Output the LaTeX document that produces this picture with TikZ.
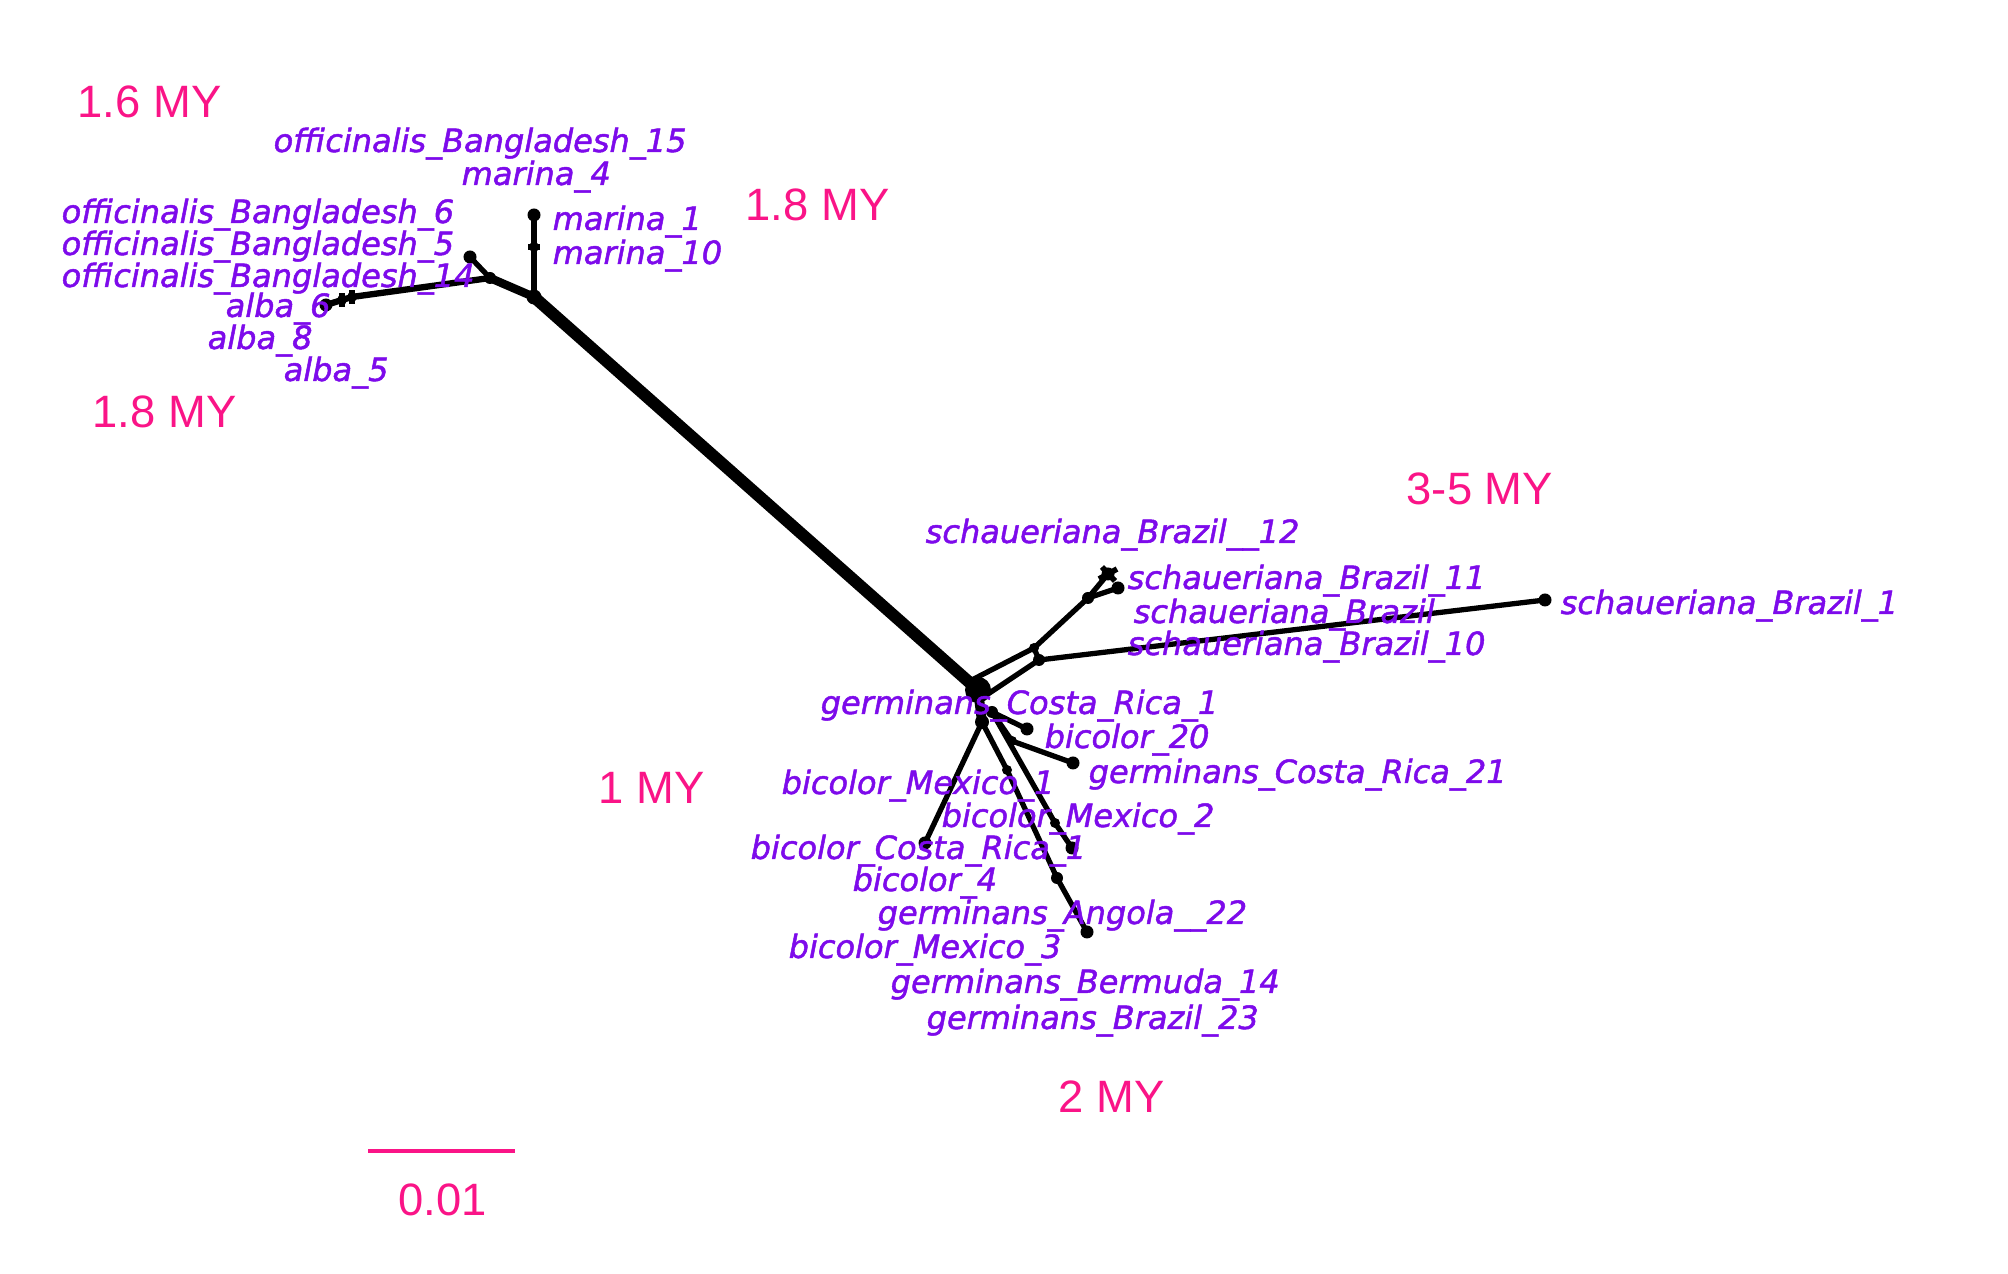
\documentclass[tikz,border=0pt]{standalone}
\usepackage{fontspec}
\setmainfont{Liberation Sans}
\newfontfamily\lblfont{DejaVu Sans}[FakeBold=1.5]
\definecolor{mypink}{RGB}{250,20,135}
\definecolor{mypurple}{RGB}{125,10,235}
\begin{document}
\begin{tikzpicture}[x=0.01cm,y=-0.01cm,
  edge/.style={line width=1.5pt,black,line cap=round},
  thickedge/.style={line width=3.4pt,black},
  dot/.style={circle,fill=black,inner sep=0pt,minimum size=0.13cm},
  jn/.style={circle,fill=black,inner sep=0pt,minimum size=0.10cm},
  taxon/.style={anchor=base west,inner sep=0pt,text=mypurple,font=\lblfont\itshape\fontsize{9.1pt}{11pt}\selectfont},
  age/.style={anchor=base west,inner sep=0pt,text=mypink,font=\fontsize{12.9pt}{15pt}\selectfont}]
\useasboundingbox (0,0) rectangle (2008,1274);
\fill[white] (0,0) rectangle (2008,1274);

% ---- left cluster ----
\node[jn,minimum size=0.15cm] (J1) at (534,297) {};
\node[jn] (M10) at (534,247) {};
\node[dot] (M1) at (534,215) {};
\node[jn,minimum size=0.12cm] (J2) at (490,278) {};
\node[dot] (O5) at (470,257) {};
\node[jn] (A1) at (352,297) {};
\node[jn] (A2) at (342,300) {};
\node[dot] (AT) at (326,305) {};
\draw[edge] (J1.center) -- (M10.center) -- (M1.center);
\draw[line width=2.4pt] (J1.center) -- (J2.center);
\draw[edge] (J2.center) -- (O5.center);
\draw[edge,line width=1.8pt] (J2.center) -- (A1.center) -- (A2.center) -- (AT.center);
\draw[line width=1.8pt] ([yshift=-0.07cm]A1.center) -- ([yshift=0.07cm]A1.center);
\draw[line width=1.8pt] ([yshift=-0.07cm]A2.center) -- ([yshift=0.07cm]A2.center);
\draw[line width=1.8pt] ([xshift=-0.06cm]M10.center) -- ([xshift=0.06cm]M10.center);

% ---- hub ----
\node[circle,fill=black,inner sep=0pt,minimum size=0.26cm] (H) at (978,690) {};
\draw[thickedge] (J1.center) -- (H.center);

% ---- schaueriana ----
\coordinate (Ha) at (968,682);
\coordinate (Hb) at (988,694);
\node[jn] (N1) at (1034,648) {};
\node[jn,minimum size=0.12cm] (N1b) at (1039,660) {};
\node[jn,minimum size=0.12cm] (N2) at (1088,598) {};
\node[dot] (S12) at (1108,574) {};
\node[dot] (S11) at (1118,588) {};
\node[dot] (S1) at (1545,600) {};
\draw[edge] (Ha) -- (N1.center) -- (N2.center) -- (S12.center);
\draw[edge] (N2.center) -- (S11.center);
\draw[edge] (Hb) -- (N1b.center) -- (S1.center);
\draw[edge] (N1.center) -- (N1b.center);
\draw[line width=1.6pt] (1102,567) -- (1115,581);
\draw[line width=1.6pt] (1099,579) -- (1117,569);

% ---- lower branches ----
\node[jn,minimum size=0.14cm] (L0) at (982,722) {};
\node[jn,minimum size=0.12cm] (L1) at (992,712) {};
\node[dot] (B20) at (1027,729) {};
\node[jn] (N3) at (1012,741) {};
\node[dot] (G21) at (1073,763) {};
\node[dot] (BCR) at (925,843) {};
\node[jn] (N4) at (1055,823) {};
\node[dot] (T4) at (1072,848) {};
\node[jn] (N5) at (1007,770) {};
\node[jn,minimum size=0.12cm] (N6) at (1057,878) {};
\node[dot] (GA) at (1087,932) {};
\draw[line width=2.8pt] (H.center) -- (L0.center);
\draw[edge] (L1.center) -- (B20.center);
\draw[edge] (L1.center) -- (N3.center) -- (G21.center);
\draw[edge] (L0.center) -- (BCR.center);
\draw[edge] (L1.center) -- (N4.center) -- (T4.center);
\draw[edge] (L0.center) -- (N5.center) -- (N6.center) -- (GA.center);

% ---- taxon labels ----
\node[taxon] (t1) at (273,152) {officinalis\_Bangladesh\_15};
\node[taxon] (t2) at (461,185) {marina\_4};
\node[taxon] (t3) at (61,223) {officinalis\_Bangladesh\_6};
\node[taxon] (t4) at (552,230) {marina\_1};
\node[taxon] (t5) at (61,255) {officinalis\_Bangladesh\_5};
\node[taxon] (t6) at (552,264) {marina\_10};
\node[taxon] (t7) at (61,287) {officinalis\_Bangladesh\_14};
\node[taxon] (t8) at (225,317) {alba\_6};
\node[taxon] (t9) at (207,349) {alba\_8};
\node[taxon] (t10) at (283,381) {alba\_5};
\node[taxon] (t11) at (925,543) {schaueriana\_Brazil\_\_12};
\node[taxon] (t12) at (1127,589) {schaueriana\_Brazil\_11};
\node[taxon] (t13) at (1560,614) {schaueriana\_Brazil\_1};
\node[taxon] (t14) at (1133,623) {schaueriana\_Brazil};
\node[taxon] (t15) at (1127,655) {schaueriana\_Brazil\_10};
\node[taxon] (t16) at (820,714) {germinans\_Costa\_Rica\_1};
\node[taxon] (t17) at (1044,748) {bicolor\_20};
\node[taxon] (t18) at (1088,783) {germinans\_Costa\_Rica\_21};
\node[taxon] (t19) at (781,794) {bicolor\_Mexico\_1};
\node[taxon] (t20) at (941,827) {bicolor\_Mexico\_2};
\node[taxon] (t21) at (750,859) {bicolor\_Costa\_Rica\_1};
\node[taxon] (t22) at (852,891) {bicolor\_4};
\node[taxon] (t23) at (877,924) {germinans\_Angola\_\_22};
\node[taxon] (t24) at (788,958) {bicolor\_Mexico\_3};
\node[taxon] (t25) at (890,993) {germinans\_Bermuda\_14};
\node[taxon] (t26) at (926,1029) {germinans\_Brazil\_23};

% ---- age labels ----
\node[age] (a1) at (77,118) {1.6 MY};
\node[age] (a2) at (745,221) {1.8 MY};
\node[age] (a3) at (92,428) {1.8 MY};
\node[age] (a4) at (1406,505) {3-5 MY};
\node[age] (a5) at (598,804) {1 MY};
\node[age] (a6) at (1058,1113) {2 MY};

% ---- scale bar ----
\coordinate (sb1) at (368,1151);
\coordinate (sb2) at (515,1151);
\draw[mypink,line width=1.4pt] (sb1) -- (sb2);
\node[age] (sbl) at (398,1216) {0.01};
\end{tikzpicture}
\end{document}
